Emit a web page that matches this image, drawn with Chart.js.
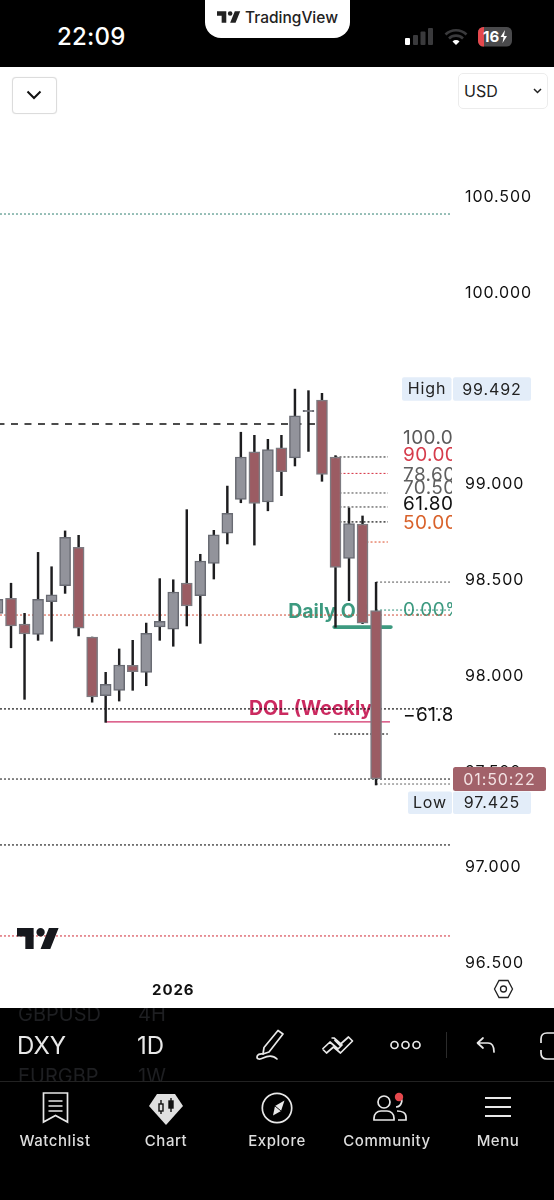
<!DOCTYPE html>
<html>
<head>
<meta charset="utf-8">
<title>DXY 1D</title>
<script src="https://cdn.jsdelivr.net/npm/chart.js@4"></script>
<style>
html,body{margin:0;padding:0;background:#000;}
body{width:554px;height:1200px;position:relative;overflow:hidden;font-family:Inter,"Noto Sans",sans-serif;color:#fff;}
.abs{position:absolute;}
#top{left:0;top:0;width:554px;height:66px;background:#000;}
#notch{left:205px;top:0;width:145px;height:38px;background:#fff;border-radius:0 0 16px 16px;}
#plot{left:0;top:67px;width:554px;height:941px;background:#fff;}
canvas{display:block;}
#time{left:57px;top:22px;font-size:24px;line-height:30px;font-weight:500;color:#fff;letter-spacing:.2px;}
#brand{left:245px;top:8px;font-size:15.5px;line-height:20px;font-weight:500;color:#222;}
#btn{left:12px;top:77px;width:43px;height:35px;border:1px solid #dcdcdc;border-radius:4px;background:#fff;box-sizing:content-box;box-shadow:0 0 1px #ddd;}
#usd{left:458px;top:73px;width:88px;height:34px;border:1px solid #ececec;border-radius:5px;background:#fff;color:#222;font-size:16px;line-height:34px;text-indent:5px;}
.dim{color:#1e1f22;font-size:20px;line-height:24px;}
.main{color:#e8e8e8;font-size:24px;line-height:30px;}
.nav{color:#dedede;font-size:15px;line-height:20px;font-weight:500;width:110px;text-align:center;top:1131px;letter-spacing:.55px;}
#clipA{left:0;top:1008px;width:554px;height:73px;overflow:hidden;}
#clipA div{position:absolute;white-space:nowrap;}
#rule{left:0;top:1081px;width:554px;height:1px;background:#222;}
#sep{left:446px;top:1032px;width:1px;height:26px;background:#2b2b2b;}
svg{position:absolute;overflow:visible;}
</style>
</head>
<body>
<div class="abs" id="top"></div>
<div class="abs" id="notch"></div>
<svg style="left:217px;top:11px" width="24" height="12" viewBox="2 6 31 15"><path fill="#222" d="M14 6H2v6h6v9h6V6Zm12 15h-7l6-15h7l-6 15Zm-7-9a3 3 0 1 0 0-6 3 3 0 0 0 0 6Z"/></svg>
<div class="abs" id="brand">TradingView</div>
<div class="abs" id="time">22:09</div>
<svg style="left:405px;top:28px" width="28" height="18"><rect x="0" y="10" width="5" height="7" rx="1" fill="#fff"/><rect x="8" y="7" width="5" height="10" rx="1" fill="#3a3a3c"/><rect x="15.500" y="3.500" width="5" height="13.500" rx="1" fill="#3a3a3c"/><rect x="23" y="0" width="5" height="17" rx="1" fill="#3a3a3c"/></svg>
<svg style="left:444px;top:28px" width="24" height="18" viewBox="0 0 24 18"><path d="M1.500 6.500a15 15 0 0 1 21 0M5 10.500a10 10 0 0 1 14 0" fill="none" stroke="#3a3a3c" stroke-width="2.600"/><path d="M8.500 13.500a5 5 0 0 1 7 0L12 17Z" fill="#fff"/></svg>
<svg style="left:478px;top:27px" width="36" height="20"><rect x="0" y="0" width="34" height="19.500" rx="5.500" fill="#4a4a4c"/><path d="M5.500 0H6V19.500H5.500A5.500 5.500 0 0 1 0 14V5.500A5.500 5.500 0 0 1 5.500 0Z" fill="#e5484d"/><text x="5" y="15" font-family="Inter" font-size="15" font-weight="700" fill="#fff">16</text><path d="M27 3l-4.500 7h3l-1 6 4.500-7h-3z" fill="#fff"/></svg>

<div class="abs" id="plot"><canvas id="chart" width="554" height="941"></canvas></div>

<div class="abs" id="btn"></div>
<svg style="left:26px;top:90px" width="16" height="10"><path d="M1.500 1.500L8 8l6.500-6.500" fill="none" stroke="#111" stroke-width="2"/></svg>
<div class="abs" id="usd">USD</div>
<svg style="left:533px;top:88px" width="9" height="6"><path d="M1 1l3.500 3.500L8 1" fill="none" stroke="#222" stroke-width="1.500"/></svg>

<svg style="left:17px;top:928px" width="43" height="21" viewBox="2 6 31 15" preserveAspectRatio="none"><path fill="#16181d" d="M14 6H2v6h6v9h6V6Zm12 15h-7l6-15h7l-6 15Zm-7-9a3 3 0 1 0 0-6 3 3 0 0 0 0 6Z"/></svg>
<svg style="left:493px;top:979px" width="21" height="20" viewBox="0 0 21 20"><path d="M6 1.500h9l4.500 8.500L15 18.500H6L1.500 10Z" fill="none" stroke="#222" stroke-width="1.300"/><circle cx="10.500" cy="10" r="3" fill="none" stroke="#222" stroke-width="1.300"/></svg>

<div class="abs" id="clipA">
  <div class="dim" style="left:18px;top:-6px;width:92px;overflow:hidden">GBPUSD</div>
  <div class="dim" style="left:138px;top:-6px">4H</div>
  <div class="main" style="left:17px;top:23px">DXY</div>
  <div class="main" style="left:137px;top:23px">1D</div>
  <div class="dim" style="left:18px;top:56px;width:92px;overflow:hidden">EURGBP</div>
  <div class="dim" style="left:138px;top:56px">1W</div>
</div>
<div class="abs" id="rule"></div>
<div class="abs" id="sep"></div>

<svg style="left:256px;top:1029px" width="29" height="32" viewBox="0 0 29 32" fill="none" stroke="#e8e8e8" stroke-width="1.700" stroke-linejoin="round" stroke-linecap="round"><path d="M22 1.500l5 3.500L13 23l-6 2 1-6.500Z"/><path d="M7 25c-3-.5-6 .5-6 3s3 2.500 6 1c4-2 9-4 14 1"/></svg>
<svg style="left:321px;top:1035px" width="33" height="20" viewBox="0 0 33 20" fill="none" stroke="#e8e8e8" stroke-width="1.700" stroke-linejoin="round"><path d="M1.500 14L9 7l8 7 4-4 -8-7-2.500 0M1.500 14l4 4 7-6 7 6 12-12-4-4-9 8-5-5"/></svg>
<svg style="left:390px;top:1040px" width="31" height="10" fill="none" stroke="#e8e8e8" stroke-width="1.700"><circle cx="4.500" cy="5" r="3.500"/><circle cx="15.500" cy="5" r="3.500"/><circle cx="26.500" cy="5" r="3.500"/></svg>
<svg style="left:476px;top:1037px" width="20" height="16" viewBox="0 0 20 16" fill="none" stroke="#e8e8e8" stroke-width="1.700" stroke-linecap="round" stroke-linejoin="round"><path d="M7 1L1.500 6 7 11M2 6h10c4 0 6 3 6 9"/></svg>
<svg style="left:540px;top:1032px" width="14" height="28" viewBox="0 0 14 28" fill="none" stroke="#e8e8e8" stroke-width="1.700"><path d="M14 1H7Q1 1 1 7v4M1 18v3q0 6 6 6h7"/></svg>

<svg style="left:42px;top:1092px" width="27" height="32" viewBox="0 0 27 32" fill="none" stroke="#e8e8e8" stroke-width="1.700"><path d="M1.500 1h24v29l-12-6.500-12 6.500Z"/><path d="M6.500 9h14M6.500 14h14M6.500 19h14"/></svg>
<svg style="left:149px;top:1094px" width="34" height="31" viewBox="0 0 34 31"><path d="M8 0h18l8 12-17 19L0 12Z" fill="#e0e0e0"/><g stroke="#111" stroke-width="1.400" fill="none"><path d="M12 6v14M12 9.500v7" /><rect x="10" y="10" width="4" height="7" fill="#e0e0e0"/><path d="M22 4v14"/><rect x="20" y="7" width="4" height="7" fill="#111"/></g></svg>
<svg style="left:261px;top:1092px" width="32" height="32" viewBox="0 0 32 32" fill="none" stroke="#e8e8e8" stroke-width="1.700"><circle cx="16" cy="16" r="14.700"/><path d="M23.500 8.500L20 19l-8 4.500 2-9.500Z" fill="#e8e8e8" stroke="none"/><path d="M14 14l6 5" stroke="#111" stroke-width="1"/></svg>
<svg style="left:373px;top:1094px" width="34" height="28" viewBox="0 0 34 28" fill="none" stroke="#e8e8e8" stroke-width="1.700"><circle cx="11" cy="8" r="6"/><path d="M1 26v-2c0-4 3-7 7-7h6c4 0 7 3 7 7v2Z"/><path d="M26 2a6 6 0 0 1-3 11M24 17c5 0 9 2 9 6v3h-8"/><circle cx="26" cy="3" r="4.200" fill="#e5484d" stroke="#000" stroke-width="0"/></svg>
<svg style="left:485px;top:1097px" width="26" height="20" stroke="#e8e8e8" stroke-width="1.800"><path d="M0 1h26M0 10h26M0 19h26"/></svg>

<div class="abs nav" style="left:0">Watchlist</div>
<div class="abs nav" style="left:111px">Chart</div>
<div class="abs nav" style="left:222px">Explore</div>
<div class="abs nav" style="left:332px">Community</div>
<div class="abs nav" style="left:443px">Menu</div>

<script>
// ---- data ----
const categories = ["","","","","","","","","","","","","","2026","","","","","","","","","","","","","","",""];
const opens  = [98.322,98.400,98.266,98.212,98.383,98.466,98.666,98.198,97.892,97.920,98.051,98.014,98.251,98.239,98.480,98.414,98.583,98.740,98.917,99.165,98.903,99.185,99.133,99.374,99.435,99.138,98.609,98.788,98.336];
const closes = [98.395,98.256,98.214,98.395,98.419,98.719,98.244,97.885,97.951,98.052,98.017,98.218,98.280,98.433,98.360,98.595,98.731,98.844,99.138,98.896,99.176,99.061,99.353,99.382,99.047,98.562,98.790,98.271,97.457];
const highs  = [98.444,98.479,98.322,98.640,98.565,98.752,98.729,98.198,98.014,98.136,98.181,98.271,98.503,98.497,98.863,98.630,98.755,98.986,99.267,99.251,99.230,99.251,99.492,99.484,99.470,99.145,98.872,98.830,98.484];
const lows   = [98.287,98.142,97.873,98.181,98.177,98.426,98.204,97.858,97.753,97.864,97.920,97.944,98.181,98.150,98.256,98.165,98.501,98.684,98.899,98.678,98.857,98.936,99.091,99.167,99.011,98.249,98.388,98.268,97.426];
const priceTicks = [100.5,100,99.5,99,98.5,98,97.5,97,96.5];
const highPrice = 99.492, lowPrice = 97.425, lastPrice = 97.457;
const levelNames  = ["top","res","fib100","fib90","fib786","fib705","fib618","fib50","swing","fib0","mid","ob","fibm618","dol","target","close","low","sup1","sup2"];
const levelPrices = [100.406,99.310,99.138,99.052,98.950,98.877,98.799,98.694,98.485,98.339,98.313,98.250,97.823,97.755,97.692,97.457,97.431,97.113,96.638];
const levelStarts = [-1,-1,25,25,25,25,25,27,28,28,-1,24.9,-1,8,24.9,-1,28,-1,-1];
const levelEnds   = [33.47,24,28.88,28.88,28.88,28.88,28.88,28.88,33.47,33.47,33.47,29.1,33.47,29.03,28.88,33.47,33.47,33.47,33.47];
const fibTexts  = ["100.00%","90.00%","78.60%","70.50%","61.80%","50.00%","0.00%","−61.80%"];
const fibPrices = [99.237,99.148,99.044,98.976,98.892,98.793,98.339,97.791];
const noteTexts = ["Daily OB","DOL (Weekly)"];
const notePrices = [98.328,97.823];
const noteBars = [21.5,18.6];
const countdown = "01:50:22";

// ---- styles ----
const UP="#92939b", UPB="#696b73", DOWN="#9b5c63", DOWNB="#7d7a80", WICK="#1d1d1f";
const DOT=[2,2];
const levelStyle = {
  top:{c:"#2f7f70",d:DOT,w:1}, res:{c:"#111",d:[7,6.5],w:1.4}, fib100:{c:"#444",d:DOT,w:1.2},
  fib90:{c:"#d9404f",d:DOT,w:1.1}, fib786:{c:"#555",d:DOT,w:1.1}, fib705:{c:"#444",d:DOT,w:1.1},
  fib618:{c:"#111",d:DOT,w:1.2}, fib50:{c:"#de5a3a",d:DOT,w:1.1}, swing:{c:"#555",d:DOT,w:1},
  fib0:{c:"#2f9078",d:DOT,w:1}, mid:{c:"#cf4a35",d:DOT,w:1}, ob:{c:"#3d9a80",d:[],w:3.6},
  fibm618:{c:"#111",d:DOT,w:1.2}, dol:{c:"#d2326a",d:[],w:1.2}, target:{c:"#111",d:DOT,w:1.2},
  close:{c:"#222",d:DOT,w:1.1}, low:{c:"#666",d:DOT,w:1}, sup1:{c:"#111",d:DOT,w:1.1}, sup2:{c:"#d43c48",d:DOT,w:1.1}
};
const fibColors=["#5a5a5a","#d63c4c","#5f5f5f","#5f5f5f","#111","#d9622b","#3d9a80","#111"];
const noteColors=["#3d9a80","#cb2a60"];

const isUp = i => closes[i] >= opens[i];
const datasets = [];
levelPrices.forEach((p,i)=>{
  const s = levelStyle[levelNames[i]];
  datasets.push({type:"line",label:levelNames[i],order:5,
    data:[{x:levelStarts[i],y:p},{x:levelEnds[i],y:p}],
    borderColor:s.c,borderWidth:s.w,borderDash:s.d,pointRadius:0,tension:0,
    borderCapStyle:levelNames[i]==="ob"?"round":"butt"});
});
datasets.push({type:"bar",label:"wick",order:2,grouped:false,barThickness:1.8,
  data:categories.map((_,i)=>({x:i,y:[lows[i],highs[i]]})),backgroundColor:WICK,borderWidth:0});
datasets.push({type:"bar",label:"body",order:1,grouped:false,barThickness:11,
  data:categories.map((_,i)=>({x:i,y:[opens[i],closes[i]]})),
  backgroundColor:categories.map((_,i)=>isUp(i)?UP:DOWN),
  borderColor:categories.map((_,i)=>isUp(i)?UPB:DOWNB),borderWidth:1.5,borderSkipped:false});

const F='Inter,"Noto Sans",sans-serif';
const annotations = {
  id:"annotations",
  beforeDraw(c){c.ctx.letterSpacing="0.9px";},
  beforeDatasetsDraw(c){
    const ctx=c.ctx,x=c.scales.x,y=c.scales.y;
    ctx.save();
    ctx.beginPath();ctx.rect(0,0,452,c.height);ctx.clip();
    ctx.textBaseline="middle";ctx.textAlign="left";
    ctx.letterSpacing="0.4px";
    ctx.font="19px "+F;
    fibTexts.forEach((t,i)=>{ctx.fillStyle=fibColors[i];ctx.fillText(t,403,y.getPixelForValue(fibPrices[i]));});
    ctx.letterSpacing="0px";
    ctx.font="700 19.5px "+F;
    noteTexts.forEach((t,i)=>{ctx.fillStyle=noteColors[i];ctx.fillText(t,x.getPixelForValue(noteBars[i]),y.getPixelForValue(notePrices[i]));});
    ctx.restore();
  },
  afterDraw(c){
    const ctx=c.ctx,y=c.scales.y;
    const box=(x,yy,w,h,col,r)=>{ctx.fillStyle=col;ctx.beginPath();ctx.roundRect(x,yy,w,h,r);ctx.fill();};
    const tag="#e3edf9";
    ctx.save();
    ctx.textBaseline="middle";ctx.textAlign="center";ctx.font="16px "+F;
    const yh=y.getPixelForValue(highPrice);
    box(402,yh-12,49.5,23.5,tag,2);box(453,yh-12,78,23.5,tag,2);
    ctx.fillStyle="#222";ctx.fillText("High",427,yh);ctx.fillText(highPrice.toFixed(3),492,yh+1);
    const yl=y.getPixelForValue(lastPrice);
    box(453,yl-12,93,24,"#a2626a",2.5);
    ctx.fillStyle="#f3e2e3";ctx.fillText(countdown,499.5,yl+1);
    const yw=yl+24;
    box(408,yw-11.5,44,22.5,tag,2);box(453,yw-11.5,78,22.5,tag,2);
    ctx.fillStyle="#222";ctx.fillText("Low",430,yw);ctx.fillText(lowPrice.toFixed(3),492,yw+.5);
    ctx.restore();
  }
};

new Chart(document.getElementById("chart"),{
  data:{datasets},
  options:{
    responsive:false,animation:false,
    layout:{padding:0,autoPadding:false},
    plugins:{legend:{display:false},tooltip:{enabled:false},title:{display:false}},
    scales:{
      x:{type:"linear",position:"bottom",offset:false,min:0.185,max:33.617,
        grid:{display:false,drawTicks:false,offset:false},border:{display:false},
        afterFit(s){s.height=33;s.paddingLeft=0;s.paddingRight=0;},
        ticks:{stepSize:1,autoSkip:false,maxRotation:0,includeBounds:false,padding:6,color:"#111",
          font:{family:F,size:15,weight:"700"},
          callback:v=>categories[v]||""}},
      y:{type:"linear",position:"right",min:96.4342,max:101.1733,
        grid:{display:false,drawTicks:false},border:{display:false},
        afterFit(s){s.width=102;s.paddingTop=0;s.paddingBottom=0;},
        afterBuildTicks(s){s.ticks=priceTicks.map(v=>({value:v}));},
        ticks:{padding:13,labelOffset:1,color:"#111",font:{family:F,size:16},callback:v=>v.toFixed(3)}}
    }
  },
  plugins:[annotations]
});
</script>
</body>
</html>
